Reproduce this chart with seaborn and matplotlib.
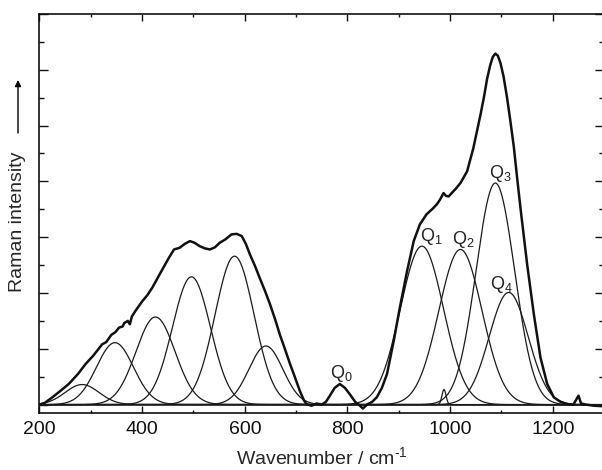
import numpy as np
import pandas as pd
import matplotlib
matplotlib.use("Agg")
import matplotlib.pyplot as plt
from matplotlib.ticker import MultipleLocator
import seaborn as sns

# ---------------- data ----------------
# Fitted Gaussian bands: centre (cm-1), height (a.u.), sigma (cm-1)
band_center = [283, 347, 426, 496, 580, 641, 945, 988, 1020, 1088, 1114]
band_height = [0.36, 1.11, 1.57, 2.29, 2.66, 1.05, 2.84, 0.27, 2.78, 3.97, 2.01]
band_sigma = [33, 36, 38, 37, 38, 33, 42, 4, 42, 37.5, 38]

spectrum_x = [200, 210, 225, 240, 257, 275, 290, 305, 322, 330, 340, 348, 355, 362,
              365, 372, 376, 380, 387, 400, 410, 420, 435, 452, 462, 473, 483, 493,
              502, 512, 522, 532, 542, 551, 562, 574, 584, 594, 602, 610, 620, 629,
              640, 649, 660, 668, 678, 688, 698, 707, 715, 720, 730, 740, 750, 758,
              765, 775, 785, 795, 805, 815, 822, 830, 838, 848, 857, 867, 877, 890,
              902, 916, 929, 941, 954, 967, 975, 980, 987, 992, 997, 1006, 1012, 1020,
              1033, 1045, 1059, 1066, 1072, 1078, 1083, 1088, 1093, 1098, 1104, 1111,
              1117, 1124, 1130, 1137, 1150, 1163, 1176, 1189, 1202, 1215, 1228, 1240,
              1250, 1255, 1265, 1280, 1300]
spectrum_y = [0.00, 0.03, 0.13, 0.24, 0.37, 0.55, 0.73, 0.88, 1.08, 1.12, 1.25, 1.30, 1.38, 1.40,
              1.46, 1.50, 1.44, 1.58, 1.68, 1.85, 1.96, 2.10, 2.35, 2.63, 2.78, 2.81, 2.88, 2.93,
              2.90, 2.84, 2.80, 2.78, 2.82, 2.90, 2.96, 3.05, 3.06, 3.02, 2.88, 2.69, 2.48, 2.27,
              2.02, 1.80, 1.50, 1.26, 1.00, 0.73, 0.48, 0.25, 0.08, 0.01, -0.02, 0.02, 0.00, 0.05,
              0.15, 0.30, 0.37, 0.30, 0.18, 0.05, 0.00, -0.07, 0.00, 0.05, 0.13, 0.30, 0.55, 1.14,
              1.74, 2.39, 2.93, 3.23, 3.41, 3.52, 3.60, 3.67, 3.79, 3.74, 3.73, 3.82, 3.88, 3.97,
              4.18, 4.59, 5.19, 5.52, 5.84, 6.08, 6.23, 6.29, 6.25, 6.12, 5.88, 5.49,
              5.10, 4.62, 4.10, 3.52, 2.51, 1.62, 0.84, 0.37, 0.13, 0.05, 0.01, 0.00,
              0.16, 0.02, 0.00, -0.02, -0.03]

# Band labels
q_labels = ["Q$_0$", "Q$_1$", "Q$_2$", "Q$_3$", "Q$_4$"]
q_x = [788, 964, 1025, 1097, 1100]
q_y = [0.55, 3.02, 2.96, 4.14, 2.16]

# ---------------- style ----------------
sns.set_style("ticks")
plt.rcParams["font.family"] = ["Liberation Sans", "DejaVu Sans"]
plt.rcParams["mathtext.fontset"] = "custom"
plt.rcParams["mathtext.rm"] = "Liberation Sans"
plt.rcParams["mathtext.it"] = "Liberation Sans:italic"
plt.rcParams["mathtext.bf"] = "Liberation Sans:bold"

fig = plt.figure(figsize=(6.02, 4.70), dpi=100)
ax = fig.add_axes([0.0656, 0.1213, 0.938, 0.849])

# component bands
grid = np.arange(200, 1301, 1.0)
rows = []
for i, (c, h, s) in enumerate(zip(band_center, band_height, band_sigma)):
    yv = h * np.exp(-(grid - c) ** 2 / (2 * s ** 2))
    rows.append(pd.DataFrame({"x": grid, "y": yv, "band": i}))
bands = pd.concat(rows, ignore_index=True)
sns.lineplot(data=bands, x="x", y="y", units="band", estimator=None,
             color="#1a1a1a", lw=0.9, ax=ax, sort=False)

# measured spectrum
spec = pd.DataFrame({"x": spectrum_x, "y": spectrum_y})
sns.lineplot(data=spec, x="x", y="y", estimator=None, color="#111111",
             lw=1.8, ax=ax, sort=False)

for lab, tx, ty in zip(q_labels, q_x, q_y):
    ax.text(tx, ty, lab, ha="center", va="center", fontsize=13, color="#222222")

ax.set_xlim(200, 1300)
ax.set_ylim(-0.15, 7.0)
ax.xaxis.set_major_locator(MultipleLocator(200))
ax.xaxis.set_minor_locator(MultipleLocator(100))
ax.yaxis.set_major_locator(MultipleLocator(1))
ax.yaxis.set_minor_locator(MultipleLocator(0.5))
ax.tick_params(which="both", direction="in", top=True, right=True,
               labelleft=False, width=1.0, colors="#111111")
ax.tick_params(axis="x", which="major", length=5, labelsize=14, pad=6)
ax.tick_params(axis="x", which="minor", length=2.5)
ax.tick_params(axis="y", which="major", length=6.5)
ax.tick_params(axis="y", which="minor", length=3.6)
for sp in ax.spines.values():
    sp.set_linewidth(1.2)
    sp.set_color("#111111")

ax.set_xlabel("Wavenumber / cm$^{\\text{-1}}$", fontsize=14, labelpad=6)
ax.set_ylabel("")

fig.text(18 / 602, 1 - 222 / 470, "Raman intensity", rotation=90,
         ha="center", va="center", fontsize=14)
ax.annotate("", xy=(18 / 602, 1 - 80 / 470), xytext=(18 / 602, 1 - 133 / 470),
            xycoords="figure fraction", textcoords="figure fraction",
            arrowprops=dict(arrowstyle="-|>", lw=1.0, color="black",
                            mutation_scale=9, shrinkA=0, shrinkB=0))

fig.savefig("out.png", dpi=100)
